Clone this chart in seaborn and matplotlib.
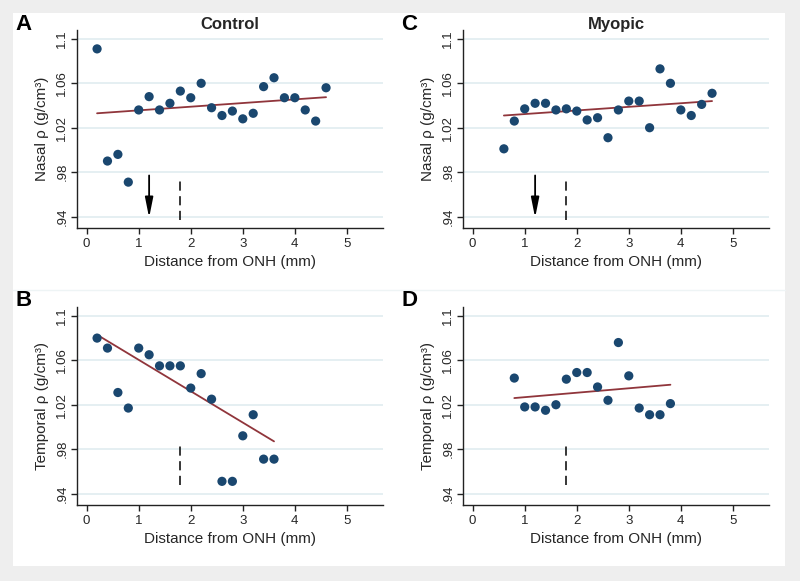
import numpy as np
import pandas as pd
import seaborn as sns
import matplotlib.pyplot as plt
from matplotlib.patches import Rectangle

sns.set_style('white')
plt.rcParams['font.family'] = ['Liberation Sans', 'DejaVu Sans']

# distances (mm)
x_ctrl_nasal = [0.2, 0.4, 0.6, 0.8, 1.0, 1.2, 1.4, 1.6, 1.8, 2.0, 2.2, 2.4, 2.6, 2.8, 3.0, 3.2, 3.4, 3.6, 3.8, 4.0, 4.2, 4.4, 4.6]
y_ctrl_nasal = [1.091, 0.990, 0.996, 0.971, 1.036, 1.048, 1.036, 1.042, 1.053, 1.047, 1.060, 1.038, 1.031, 1.035, 1.028, 1.033, 1.057, 1.065, 1.047, 1.047, 1.036, 1.026, 1.056]

x_myo_nasal = [0.6, 0.8, 1.0, 1.2, 1.4, 1.6, 1.8, 2.0, 2.2, 2.4, 2.6, 2.8, 3.0, 3.2, 3.4, 3.6, 3.8, 4.0, 4.2, 4.4, 4.6]
y_myo_nasal = [1.001, 1.026, 1.037, 1.042, 1.042, 1.036, 1.037, 1.035, 1.027, 1.029, 1.011, 1.036, 1.044, 1.044, 1.020, 1.073, 1.060, 1.036, 1.031, 1.041, 1.051]

x_ctrl_temp = [0.2, 0.4, 0.6, 0.8, 1.0, 1.2, 1.4, 1.6, 1.8, 2.0, 2.2, 2.4, 2.6, 2.8, 3.0, 3.2, 3.4, 3.6]
y_ctrl_temp = [1.080, 1.071, 1.031, 1.017, 1.071, 1.065, 1.055, 1.055, 1.055, 1.035, 1.048, 1.025, 0.951, 0.951, 0.992, 1.011, 0.971, 0.971]

x_myo_temp = [0.8, 1.0, 1.2, 1.4, 1.6, 1.8, 2.0, 2.2, 2.4, 2.6, 2.8, 3.0, 3.2, 3.4, 3.6, 3.8]
y_myo_temp = [1.044, 1.018, 1.018, 1.015, 1.020, 1.043, 1.049, 1.049, 1.036, 1.024, 1.076, 1.046, 1.017, 1.011, 1.011, 1.021]

# fitted lines (end points)
fit_ctrl_nasal = ([0.2, 4.6], [1.033, 1.0475])
fit_myo_nasal = ([0.6, 4.6], [1.031, 1.044])
fit_ctrl_temp = ([0.2, 3.6], [1.083, 0.987])
fit_myo_temp = ([0.8, 3.8], [1.026, 1.038])

yticks = [0.94, 0.98, 1.02, 1.06, 1.10]
ytick_labels = ['.94', '.98', '1.02', '1.06', '1.1']
xticks = [0, 1, 2, 3, 4, 5]

dot_color = '#1a476f'
fit_color = '#90353b'
grid_color = '#e3eef1'

W, H = 800, 581
fig = plt.figure(figsize=(8, 5.81), dpi=100, facecolor='#eeeeee')
fig.patches.append(Rectangle((13 / W, 1 - 566 / H), 772 / W, 553 / H,
                             transform=fig.transFigure, facecolor='white',
                             edgecolor='none', zorder=-10))
fig.lines.append(plt.Line2D([13 / W, 785 / W], [1 - 290 / H] * 2, transform=fig.transFigure,
                            color='#eef4f5', lw=1, zorder=-5))


def panel(left, top, xs, ys, fit, ylabel, letter, title=None, arrow=False):
    right = left + 306
    bottom = top + 198
    ax = fig.add_axes([left / W, 1 - bottom / H, (right - left) / W, (bottom - top) / H])
    ax.set_facecolor('none')
    for yt in yticks:
        ax.axhline(yt, color=grid_color, lw=1.3, zorder=0)
    df = pd.DataFrame({'x': xs, 'y': ys})
    sns.scatterplot(data=df, x='x', y='y', ax=ax, color=dot_color, s=44,
                    edgecolor='none', zorder=3)
    sns.lineplot(x=fit[0], y=fit[1], ax=ax, color=fit_color, lw=1.3, zorder=2)
    ax.plot([1.8, 1.8], [0.937, 0.973] if ylabel.startswith('Nasal') else [0.948, 0.985],
            color='black', lw=1.1, linestyle=(0, (6, 3.6)), zorder=2)
    if arrow:
        ax.annotate('', xy=(1.2, 0.939), xytext=(1.2, 0.977),
                    arrowprops=dict(arrowstyle='-|>,head_length=1.0,head_width=0.2',
                                    mutation_scale=12, color='black', lw=1.3,
                                    shrinkA=0, shrinkB=0))
    ax.set_xlim(-0.18, 5.7)
    ax.set_ylim(0.9297, 1.108)
    ax.set_xticks(xticks)
    ax.set_yticks(yticks)
    ax.set_yticklabels(ytick_labels, rotation=90, va='center')
    ax.tick_params(axis='both', direction='out', length=4.5, width=1, color='#222222',
                   labelsize=9.5, pad=3, left=True, bottom=True)
    ax.tick_params(axis='y', pad=2)
    for side in ['top', 'right']:
        ax.spines[side].set_visible(False)
    for side in ['left', 'bottom']:
        ax.spines[side].set_color('#222222')
        ax.spines[side].set_linewidth(1)
    ax.set_xlabel('Distance from ONH (mm)', fontsize=11, labelpad=3)
    ax.set_ylabel(ylabel, fontsize=11, labelpad=5)
    if title:
        ax.set_title(title, fontsize=12, fontweight='bold', pad=1)
    fig.text((left - 54) / W, 1 - (top - 6) / H, letter, fontsize=16, fontweight='bold',
             ha='center', va='center', color='black')
    return ax


panel(77.3, 30, x_ctrl_nasal, y_ctrl_nasal, fit_ctrl_nasal, 'Nasal ρ (g/cm³)', 'A', 'Control', arrow=True)
panel(463.3, 30, x_myo_nasal, y_myo_nasal, fit_myo_nasal, 'Nasal ρ (g/cm³)', 'C', 'Myopic', arrow=True)
panel(77.3, 307, x_ctrl_temp, y_ctrl_temp, fit_ctrl_temp, 'Temporal ρ (g/cm³)', 'B')
panel(463.3, 307, x_myo_temp, y_myo_temp, fit_myo_temp, 'Temporal ρ (g/cm³)', 'D')

fig.savefig('out.png', dpi=100, facecolor=fig.get_facecolor())
